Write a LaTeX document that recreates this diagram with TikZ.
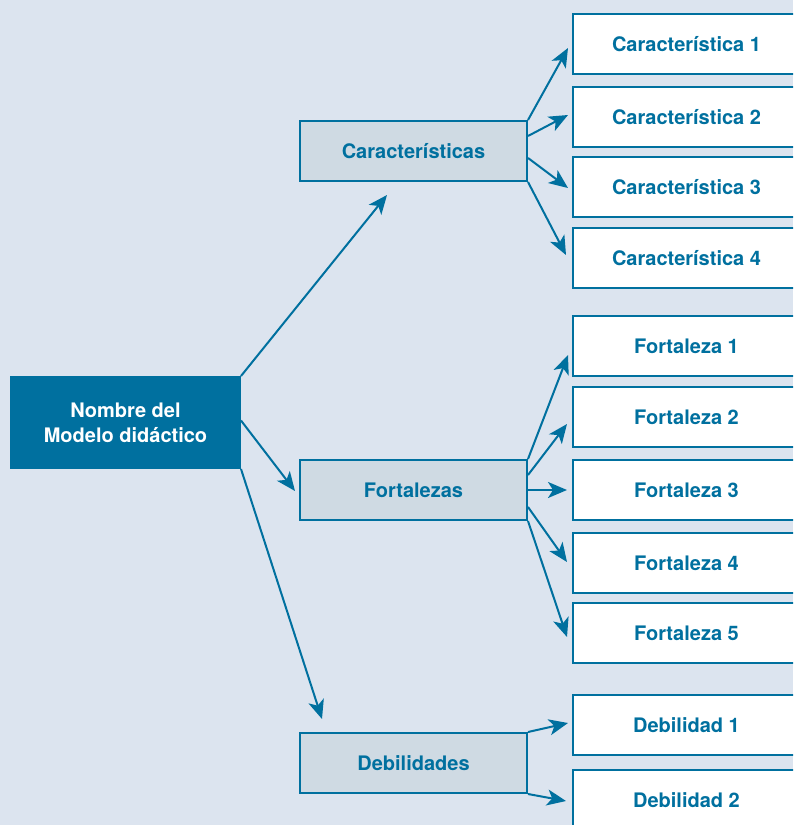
\documentclass[tikz,border=0pt]{standalone}
\usepackage{fontspec}
\setmainfont{TeX Gyre Heros}
\usetikzlibrary{arrows.meta}
\definecolor{bgc}{HTML}{DCE4EF}
\definecolor{mainblue}{HTML}{00709F}
\definecolor{midfill}{HTML}{CFDAE3}
\begin{document}
\begin{tikzpicture}[x=1pt,y=-1pt,
  every node/.style={font=\fontsize{20}{25}\selectfont\bfseries, inner sep=0pt, align=center},
  mainbox/.style={draw=mainblue, fill=mainblue, line width=2pt, text=white, minimum width=229pt, minimum height=91pt},
  midbox/.style={draw=mainblue, fill=midfill, line width=2pt, text=mainblue, minimum width=227pt, minimum height=60pt},
  leafbox/.style={draw=mainblue, fill=white, line width=2pt, text=mainblue, minimum width=227pt, minimum height=60pt},
  arr/.style={draw=mainblue, line width=2pt, -{Stealth[length=19pt,width=16pt,inset=5pt]}}
]
\useasboundingbox (0,0) rectangle (793,825);
\fill[bgc] (0,0) rectangle (793,825);
\clip (0,0) rectangle (793,825);

\node[mainbox] (main) at (125.5,422.5) {Nombre del\\Modelo didáctico};

\node[midbox] (car) at (413.5,151) {Características};
\node[midbox] (fort) at (413.5,490) {Fortalezas};
\node[midbox] (deb) at (413.5,763) {Debilidades};

\node[leafbox] (c1) at (686.5,44) {Característica 1};
\node[leafbox] (c2) at (686.5,117) {Característica 2};
\node[leafbox] (c3) at (686.5,187) {Característica 3};
\node[leafbox] (c4) at (686.5,258) {Característica 4};

\node[leafbox] (f1) at (686.5,346) {Fortaleza 1};
\node[leafbox] (f2) at (686.5,417) {Fortaleza 2};
\node[leafbox] (f3) at (686.5,490) {Fortaleza 3};
\node[leafbox] (f4) at (686.5,563) {Fortaleza 4};
\node[leafbox] (f5) at (686.5,633) {Fortaleza 5};

\node[leafbox] (d1) at (686.5,725) {Debilidad 1};
\node[leafbox] (d2) at (686.5,800) {Debilidad 2};

\draw[arr] (main.north east) -- ([shift={(-26.5,13)}]car.south);
\draw[arr] ([shift={(0,-2)}]main.east) -- ([shift={(-4,1)}]fort.west);
\draw[arr] (main.south east) -- ([shift={(23,-13)}]deb.north west);

\draw[arr] (car.north east) -- ([shift={(-4,4)}]c1.west);
\draw[arr] ([shift={(0,-15)}]car.east) -- ([shift={(-4,-2)}]c2.west);
\draw[arr] ([shift={(0,7)}]car.east) -- ([shift={(-4,1)}]c3.west);
\draw[arr] (car.south east) -- ([shift={(-6,-3)}]c4.west);

\draw[arr] (fort.north east) -- ([shift={(-4,9)}]f1.west);
\draw[arr] ([shift={(0,-15)}]fort.east) -- ([shift={(-5,7)}]f2.west);
\draw[arr] (fort.east) -- ([shift={(-5,0)}]f3.west);
\draw[arr] ([shift={(0,17)}]fort.east) -- ([shift={(-5,-1)}]f4.west);
\draw[arr] (fort.south east) -- ([shift={(-5,4)}]f5.west);

\draw[arr] (deb.north east) -- ([shift={(-4,-2)}]d1.west);
\draw[arr] (deb.south east) -- ([shift={(-6,1)}]d2.west);
\end{tikzpicture}
\end{document}
